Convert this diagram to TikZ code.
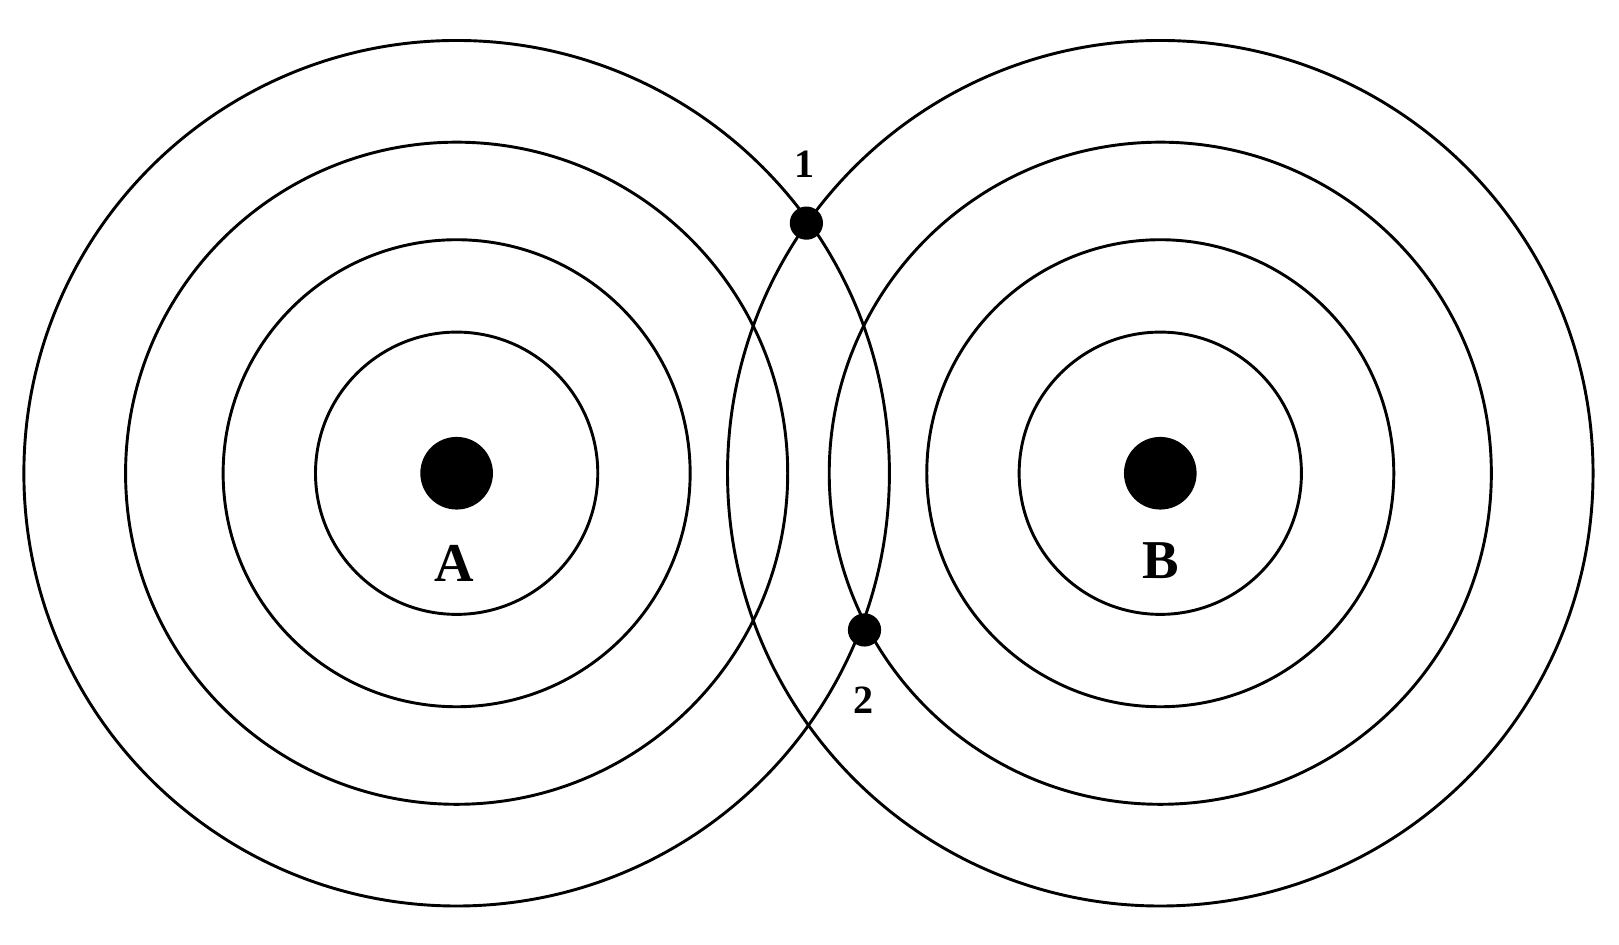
\documentclass[tikz,border=0pt]{standalone}
\usepackage{fontspec}
\setmainfont{Liberation Serif}
\begin{document}
\begin{tikzpicture}[x=0.01cm,y=-0.01cm,ring/.style={draw,line width=0.8pt},
lbl/.style={font=\bfseries\fontsize{15}{15}\selectfont,inner sep=0pt},
sml/.style={font=\bfseries\fontsize{11}{11}\selectfont,inner sep=0pt}]
\useasboundingbox (0,0) rectangle (1560,910);
\coordinate (A) at (440,456);
\coordinate (B) at (1118,456);
\foreach \r in {136,225,319,417}{
  \draw[ring] (A) circle (\r);
  \draw[ring] (B) circle (\r);
}
\fill (A) circle (35);
\fill (B) circle (35);
\node[circle,fill,inner sep=0pt,minimum size=0.32cm] (p1) at (777,215) {};
\node[circle,fill,inner sep=0pt,minimum size=0.32cm] (p2) at (833,607) {};
\node[sml] (l1) at (775,158) {1};
\node[sml] (l2) at (832,675) {2};
\node[lbl] (la) at (438,543) {A};
\node[lbl] (lb) at (1118,540) {B};
\end{tikzpicture}
\end{document}
